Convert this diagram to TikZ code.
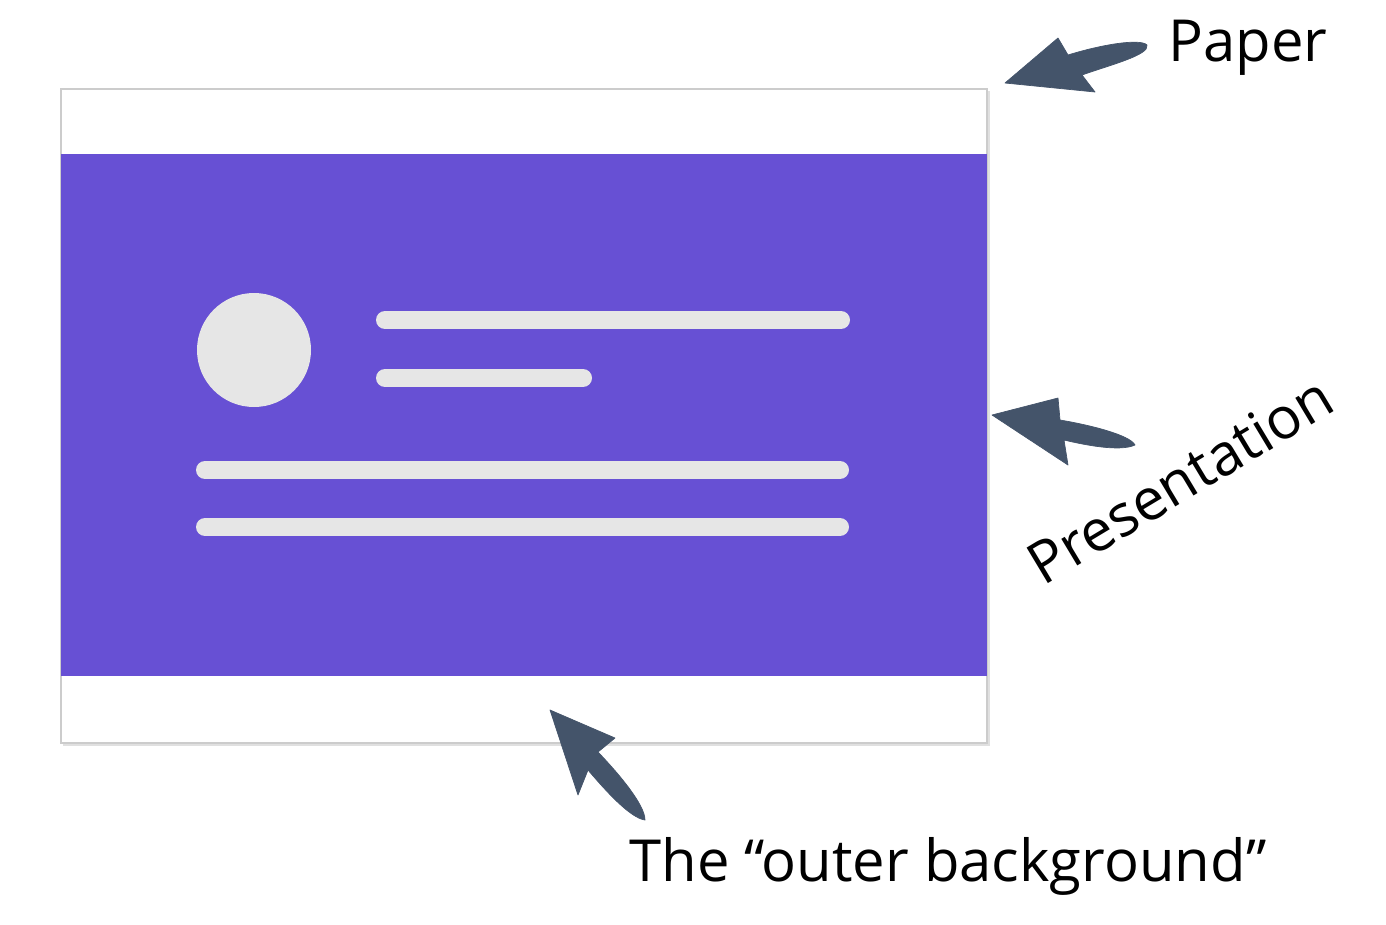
\documentclass[tikz,border=0pt]{standalone}
\usepackage{fontspec}
\setmainfont{Open Sans}
\definecolor{purp}{HTML}{6750D4}
\definecolor{barcol}{HTML}{E6E6E6}
\definecolor{arrcol}{HTML}{44546A}
\tikzset{
    bar/.style={line width=0.36cm, line cap=round, barcol},
    fatarrow/.style={fill=arrcol, draw=arrcol, line join=round},
    lbl/.style={font=\fontsize{33}{38}\selectfont, inner sep=0pt}
}
\begin{document}
\begin{tikzpicture}[x=0.02cm,y=-0.02cm]
  \useasboundingbox (0,0) rectangle (1386,924);
  \fill[black!12] (63,91) rectangle (990,746);
  \filldraw[fill=white, draw=black!20, line width=0.6pt] (61,89) rectangle (987,743);
  \fill[purp] (61,154) rectangle (987,676);
  \fill[barcol] (254,350) circle (57);
  \draw[bar] (385,320) -- (841,320);
  \draw[bar] (385,378) -- (583,378);
  \draw[bar] (205,470) -- (840,470);
  \draw[bar] (205,527) -- (840,527);
  % arrows
  \filldraw[fatarrow] (1005,83) -- (1058,38) -- (1068,55) .. controls (1100,45) and (1140,38) .. (1147,45) .. controls (1150,55) and (1110,65) .. (1082,75) -- (1095,92) -- cycle;
  \filldraw[fatarrow] (992,415) -- (1058,398) -- (1060,420) .. controls (1090,425) and (1130,435) .. (1135,445) .. controls (1120,452) and (1085,445) .. (1064,440) -- (1068,465) -- cycle;
  \filldraw[fatarrow] (550,710) -- (615,738) -- (598,752) .. controls (620,775) and (645,805) .. (645,820) .. controls (630,818) and (605,790) .. (588,770) -- (578,795) -- cycle;
  % labels
  \node[lbl] (paper) at (1248,48) {Paper};
  \node[lbl, rotate=31] (pres) at (1180,480) {Presentation};
  \node[lbl] (outer) at (948,866) {The “outer background”};
\end{tikzpicture}
\end{document}
